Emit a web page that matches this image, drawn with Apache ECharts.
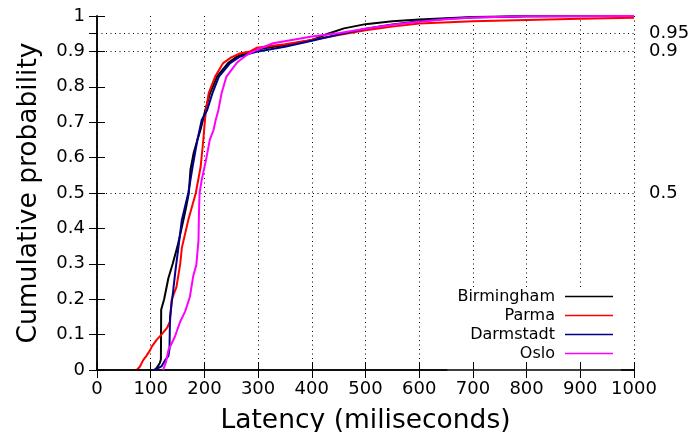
<!DOCTYPE html>
<html><head><meta charset="utf-8">
<script src="https://cdn.jsdelivr.net/npm/echarts@6/dist/echarts.min.js"></script>
<style>html,body{margin:0;padding:0;background:#fff}#c{width:691px;height:432px}</style>
</head><body><div id="c"></div>
<script>
const seriesNames = ['Birmingham', 'Parma', 'Darmstadt', 'Oslo'];
const seriesColors = ['#000000', '#ff0000', '#00008b', '#ff00ff'];

const birminghamMs = [108, 113, 117, 119, 119.5, 125, 133, 141, 150, 161, 166, 171, 174, 180, 187, 193, 201, 210, 224, 244, 260, 281, 300, 350, 400, 430, 460, 500, 550, 600, 700, 800, 1000];
const birminghamP  = [0, 0.01, 0.02, 0.03, 0.17, 0.2, 0.26, 0.3, 0.35, 0.424, 0.46, 0.5, 0.565, 0.613, 0.65, 0.68, 0.73, 0.78, 0.83, 0.867, 0.885, 0.896, 0.906, 0.918, 0.932, 0.95, 0.965, 0.977, 0.985, 0.99, 0.997, 0.999, 1.0];

const parmaMs = [74, 80, 86, 92, 99, 102, 111, 120, 130, 136, 139, 148, 155, 158, 170, 184, 193, 198, 201, 203, 208, 220, 235, 250, 266, 285, 297, 350, 400, 450, 500, 550, 600, 700, 800, 900, 1000];
const parmaP  = [0, 0.01, 0.028, 0.04, 0.056, 0.066, 0.085, 0.1, 0.118, 0.137, 0.198, 0.235, 0.3, 0.345, 0.424, 0.5, 0.574, 0.65, 0.706, 0.734, 0.782, 0.829, 0.867, 0.883, 0.894, 0.9, 0.91, 0.92, 0.932, 0.946, 0.96, 0.97, 0.979, 0.985, 0.989, 0.992, 0.995];

const darmstadtMs = [106, 113, 120, 127, 133, 135, 135.5, 136, 142, 146, 151, 158, 170, 178, 187, 195, 205, 215, 227, 248, 266, 285, 297, 350, 400, 450, 500, 550, 600, 650, 700, 800, 1000];
const darmstadtP  = [0, 0.005, 0.01, 0.028, 0.04, 0.06, 0.104, 0.15, 0.226, 0.28, 0.339, 0.424, 0.5, 0.574, 0.65, 0.706, 0.734, 0.782, 0.829, 0.867, 0.885, 0.894, 0.899, 0.913, 0.93, 0.948, 0.964, 0.976, 0.985, 0.992, 0.996, 0.999, 1.0];

const osloMs = [123, 128, 133, 139, 145, 155, 164, 173, 179, 185, 189, 190, 191, 195, 203, 210, 217, 221, 226, 232, 241, 260, 266, 281, 300, 328, 400, 452, 500, 550, 600, 650, 700, 800, 1000];
const osloP  = [0, 0.02, 0.056, 0.075, 0.094, 0.137, 0.165, 0.207, 0.264, 0.297, 0.367, 0.45, 0.5, 0.537, 0.593, 0.65, 0.678, 0.706, 0.734, 0.782, 0.829, 0.867, 0.875, 0.892, 0.906, 0.923, 0.942, 0.952, 0.964, 0.975, 0.984, 0.991, 0.996, 0.999, 1.0];

const rightLabelValues = [0.5, 0.9, 0.95];
const rightLabelsA = [0.5, 0.95];
const rightLabelsB = [0.9];
const rightTickValues = [0, 0.1, 0.2, 0.3, 0.4, 0.5, 0.6, 0.7, 0.8, 0.9, 0.95, 1];
const xTitle = 'Latency (miliseconds)';
const yTitle = 'Cumulative probability';

const msList = [birminghamMs, parmaMs, darmstadtMs, osloMs];
const pList = [birminghamP, parmaP, darmstadtP, osloP];

const FONT = 'DejaVu Sans';
const axisLineStyle = { color: '#000', width: 1.5 };
const dotted = { type: [1, 3.5], color: '#000', width: 1 };
const fmt = v => String(+(+v).toFixed(2));

const chart = echarts.init(document.getElementById('c'), null, { renderer: 'canvas' });

const series = seriesNames.map((name, i) => ({
  type: 'line', name: name,
  data: msList[i].map((x, j) => [x, pList[i][j]]),
  showSymbol: false, symbol: 'none',
  lineStyle: { width: 2, color: seriesColors[i] },
  itemStyle: { color: seriesColors[i] },
  z: 3 + i, animation: false
}));
series.push({
  type: 'line', name: '_grid', data: [], z: 1, silent: true,
  markLine: {
    silent: true, z: 1, symbol: ['none', 'none'], animation: false,
    label: { show: false },
    lineStyle: dotted,
    data: rightLabelValues.map(v => ({ yAxis: v }))
  }
});

function rightLabelAxis(values, showLine) {
  return {
    type: 'value', min: 0, max: 1, interval: 0.1, position: 'right', offset: 0,
    axisLine: { show: showLine, lineStyle: axisLineStyle },
    axisTick: showLine
      ? { show: true, inside: true, length: 8, customValues: rightTickValues, lineStyle: { color: '#000', width: 1 } }
      : { show: false },
    axisLabel: { show: true, fontSize: 18, margin: 15, color: '#000', fontFamily: FONT, hideOverlap: false,
      customValues: values, formatter: fmt },
    splitLine: { show: false }
  };
}

chart.setOption({
  animation: false,
  backgroundColor: '#fff',
  grid: { left: 97, right: 57, top: 16, bottom: 62, containLabel: false, outerBoundsMode: 'none' },
  xAxis: [
    {
      type: 'value', min: 0, max: 1000, interval: 100, position: 'bottom', z: 5,
      axisLine: { show: true, lineStyle: axisLineStyle },
      axisTick: { show: true, inside: true, length: 8, lineStyle: { color: '#000', width: 1 } },
      axisLabel: { show: true, fontSize: 18, margin: 10, color: '#000', fontFamily: FONT, hideOverlap: false,
        formatter: v => String(v) },
      splitLine: { show: false },
      name: xTitle, nameLocation: 'middle', nameGap: 38,
      nameTextStyle: { fontSize: 26.5, color: '#000', fontFamily: FONT }
    },
    {
      type: 'value', min: 0, max: 1000, interval: 100, position: 'top', z: 0,
      axisLine: { show: true, lineStyle: axisLineStyle },
      axisTick: { show: true, inside: true, length: 8, lineStyle: { color: '#000', width: 1 } },
      axisLabel: { show: false },
      splitLine: { show: true, lineStyle: dotted }
    }
  ],
  yAxis: [
    {
      type: 'value', min: 0, max: 1, interval: 0.1, position: 'left',
      axisLine: { show: true, lineStyle: axisLineStyle },
      axisTick: { show: true, inside: true, length: 8, lineStyle: { color: '#000', width: 1 } },
      axisLabel: { show: true, fontSize: 18, margin: 12, color: '#000', fontFamily: FONT, hideOverlap: false,
        formatter: fmt },
      splitLine: { show: false },
      name: yTitle, nameLocation: 'middle', nameGap: 54,
      nameTextStyle: { fontSize: 26.5, color: '#000', fontFamily: FONT }
    },
    rightLabelAxis(rightLabelsA, true),
    rightLabelAxis(rightLabelsB, false)
  ],
  legend: {
    data: seriesNames, orient: 'vertical', right: 70, top: 287, align: 'right',
    icon: 'rect', itemWidth: 48, itemHeight: 1.5, itemGap: 0,
    padding: [0, 8, 8, 10], backgroundColor: '#fff', z: 4, selectedMode: false,
    textStyle: { fontSize: 16, fontFamily: FONT, color: '#000', lineHeight: 19, padding: [0, 5, 0, 0] }
  },
  series: series
});
</script>
</body></html>
